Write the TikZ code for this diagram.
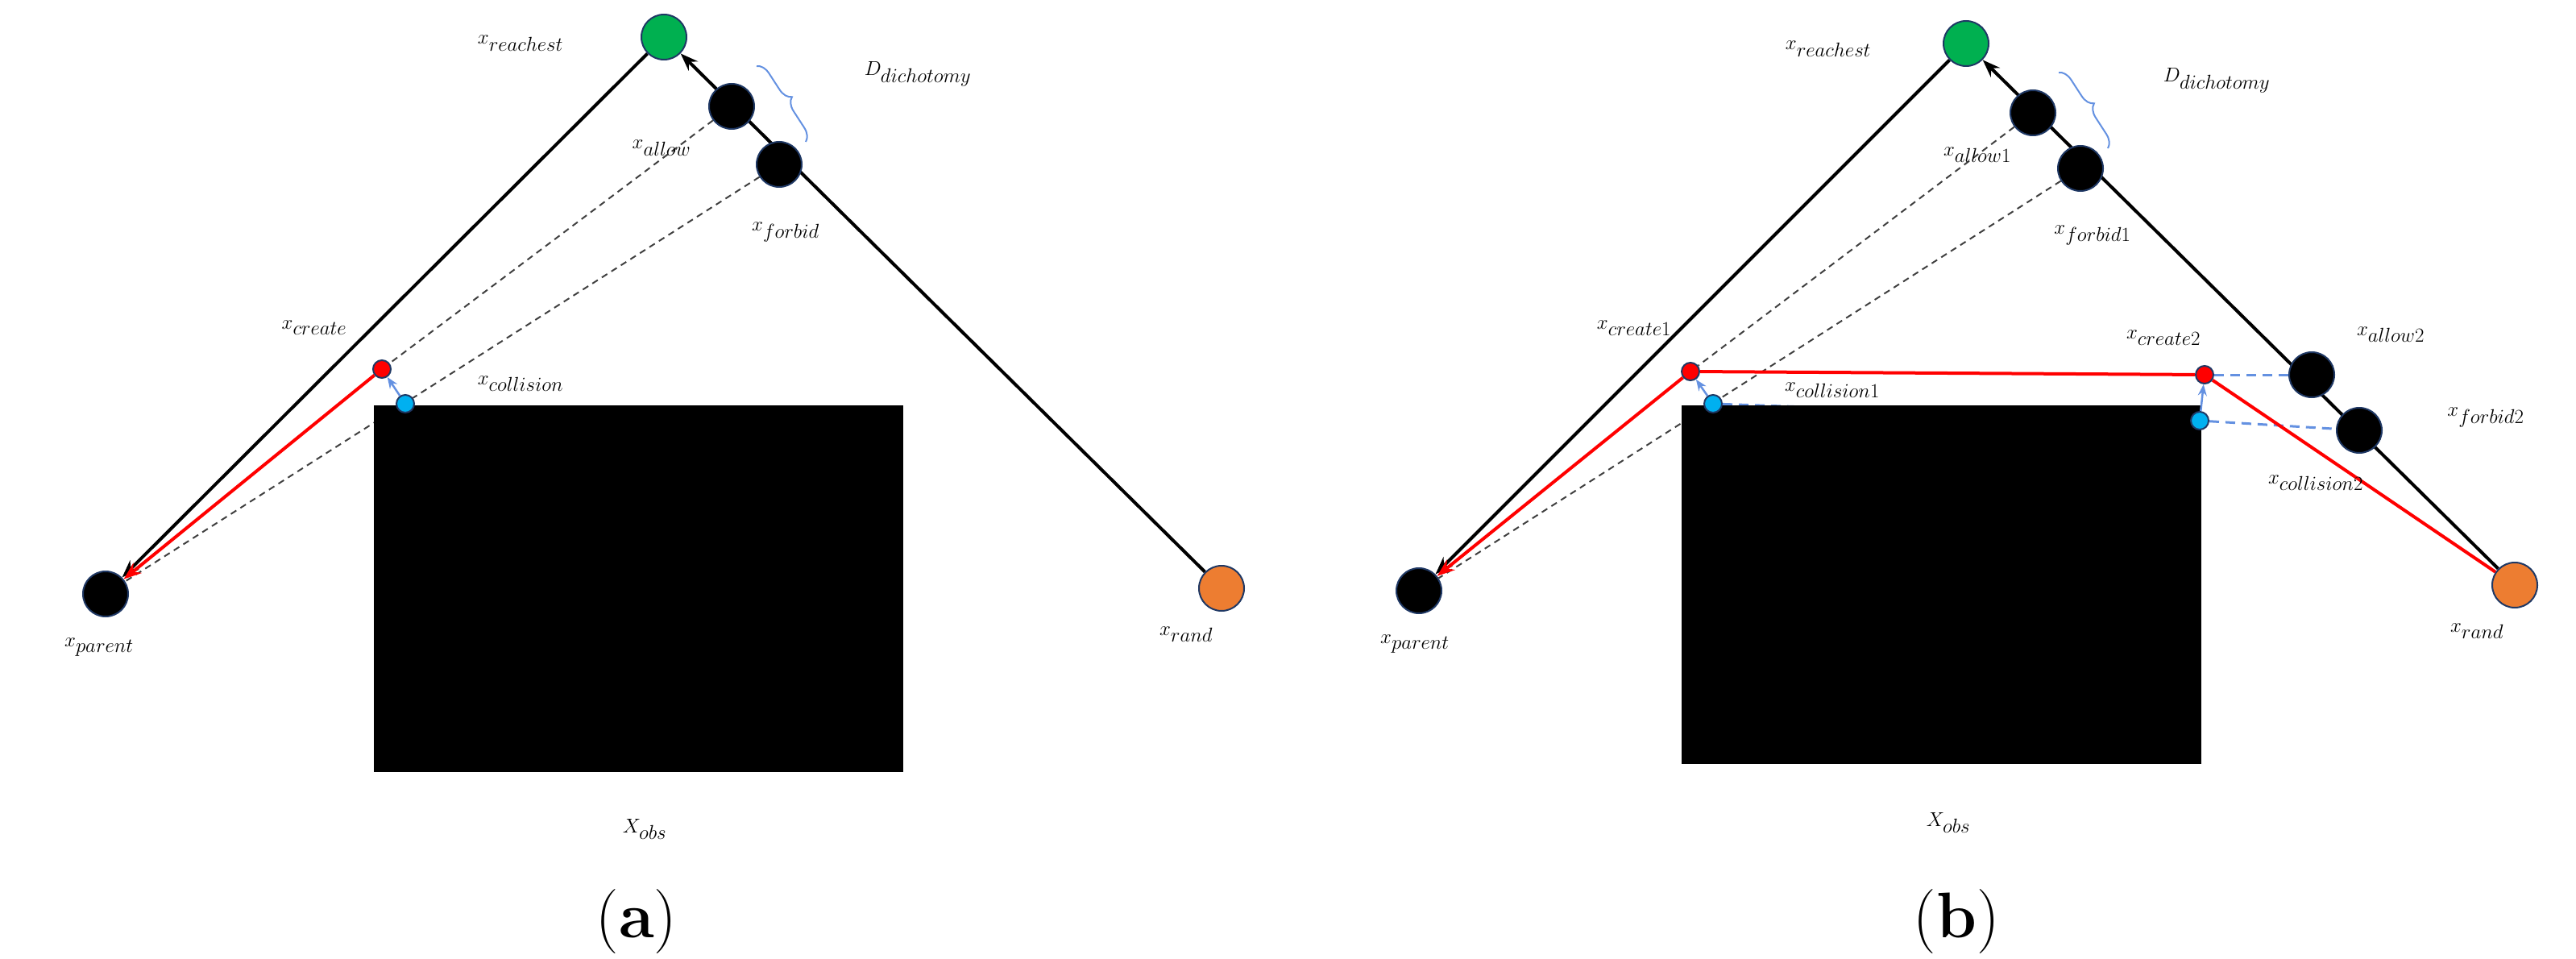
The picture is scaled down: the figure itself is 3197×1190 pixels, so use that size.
\documentclass[tikz,border=0pt]{standalone}
\usetikzlibrary{arrows.meta,decorations.pathreplacing,backgrounds}
\definecolor{ngreen}{RGB}{0,176,80}
\definecolor{norange}{RGB}{237,125,49}
\definecolor{ncyan}{RGB}{0,176,240}
\definecolor{nnavy}{RGB}{31,56,100}
\definecolor{lblue}{RGB}{100,145,225}
\begin{document}
\begin{tikzpicture}[x=1pt,y=-1pt,
  big/.style={circle,draw=nnavy,line width=2pt,minimum size=56pt,inner sep=0pt},
  small/.style={circle,draw=nnavy,line width=2pt,minimum size=22pt,inner sep=0pt},
  lab/.style={font=\fontsize{72}{80}\selectfont,inner sep=0pt},
  obslab/.style={font=\fontsize{100}{110}\selectfont,inner sep=0pt},
  captxt/.style={font=\fontsize{80}{90}\selectfont,inner sep=0pt},
  tree/.style={black,line width=4pt,-{Stealth[length=22pt,width=16pt]}},
  redl/.style={red,line width=4pt},
  gdash/.style={black!75,line width=2pt,dash pattern=on 8pt off 6pt},
  bdash/.style={lblue,line width=3pt,dash pattern=on 12pt off 8pt},
  barr/.style={lblue,line width=2.5pt,-{Stealth[length=14pt,width=11pt]}},
  brc/.style={lblue,line width=2pt,decorate,decoration={brace,amplitude=16pt}}]
\useasboundingbox (0,0) rectangle (3197,1190);
% ---------------- (a) ----------------
\fill[black] (464,503) rectangle (1121,958);
\node[big,fill=ngreen] (ra) at (824,46) {};
\node[big,fill=black] (aa) at (908,132) {};
\node[big,fill=black] (fa) at (967,204) {};
\node[big,fill=norange] (rnda) at (1516,730) {};
\node[big,fill=black] (pa) at (131,737) {};
\node[small,fill=red] (ca) at (474,458) {};
\node[small,fill=ncyan] (cola) at (503,501) {};
\begin{scope}[on background layer]
\draw[tree] (ra) -- (pa);
\draw[tree] (rnda) -- (ra);
\draw[gdash] (aa) -- (ca);
\draw[gdash] (fa) -- (pa);
\draw[redl,-{Stealth[length=22pt,width=16pt]}] (ca) -- (pa);
\end{scope}
\draw[barr] (cola) -- (ca);
\draw[brc] (939,82) -- (1000,176);
\node[lab] at (646,54) {$x_{reachest}$};
\node[lab] at (1139,92) {$D_{dichotomy}$};
\node[lab] at (821,184) {$x_{allow}$};
\node[lab] at (975,288) {$x_{forbid}$};
\node[lab] at (390,407) {$x_{create}$};
\node[lab] at (646,476) {$x_{collision}$};
\node[lab] at (123,803) {$x_{parent}$};
\node[lab] at (1472,787) {$x_{rand}$};
\node[obslab] at (800,1029) {$X_{obs}$};
\node[captxt] at (790,1144) {(\textbf{a})};
% ---------------- (b) ----------------
\fill[black] (2087,503) rectangle (2732,948);
\node[big,fill=ngreen] (rb) at (2440,54) {};
\node[big,fill=black] (ab1) at (2523,140) {};
\node[big,fill=black] (fb1) at (2582,209) {};
\node[big,fill=black] (ab2) at (2869,465) {};
\node[big,fill=black] (fb2) at (2928,534) {};
\node[big,fill=norange] (rndb) at (3121,726) {};
\node[big,fill=black] (pb) at (1761,733) {};
\node[small,fill=red] (cb1) at (2098,461) {};
\node[small,fill=ncyan] (colb1) at (2126,501) {};
\node[small,fill=red] (cb2) at (2736,465) {};
\node[small,fill=ncyan] (colb2) at (2730,522) {};
\begin{scope}[on background layer]
\draw[tree] (rb) -- (pb);
\draw[tree] (rndb) -- (rb);
\draw[gdash] (ab1) -- (cb1);
\draw[gdash] (fb1) -- (pb);
\draw[bdash] (cb2) -- (ab2);
\draw[bdash] (colb2) -- (fb2);
\draw[bdash] (colb1) -- (colb2);
\draw[redl,-{Stealth[length=22pt,width=16pt]}] (cb1) -- (pb);
\draw[redl] (cb1) -- (cb2) -- (rndb);
\end{scope}
\draw[barr] (colb1) -- (cb1);
\draw[barr] (colb2) -- (cb2);
\draw[brc] (2555,90) -- (2616,184);
\node[lab] at (2269,61) {$x_{reachest}$};
\node[lab] at (2751,100) {$D_{dichotomy}$};
\node[lab] at (2454,192) {$x_{allow1}$};
\node[lab] at (2597,292) {$x_{forbid1}$};
\node[lab] at (2028,407) {$x_{create1}$};
\node[lab] at (2274,484) {$x_{collision1}$};
\node[lab] at (2685,419) {$x_{create2}$};
\node[lab] at (2967,415) {$x_{allow2}$};
\node[lab] at (3085,518) {$x_{forbid2}$};
\node[lab] at (2874,599) {$x_{collision2}$};
\node[lab] at (1756,799) {$x_{parent}$};
\node[lab] at (3074,783) {$x_{rand}$};
\node[obslab] at (2418,1021) {$X_{obs}$};
\node[captxt] at (2428,1144) {(\textbf{b})};
\end{tikzpicture}
\end{document}
